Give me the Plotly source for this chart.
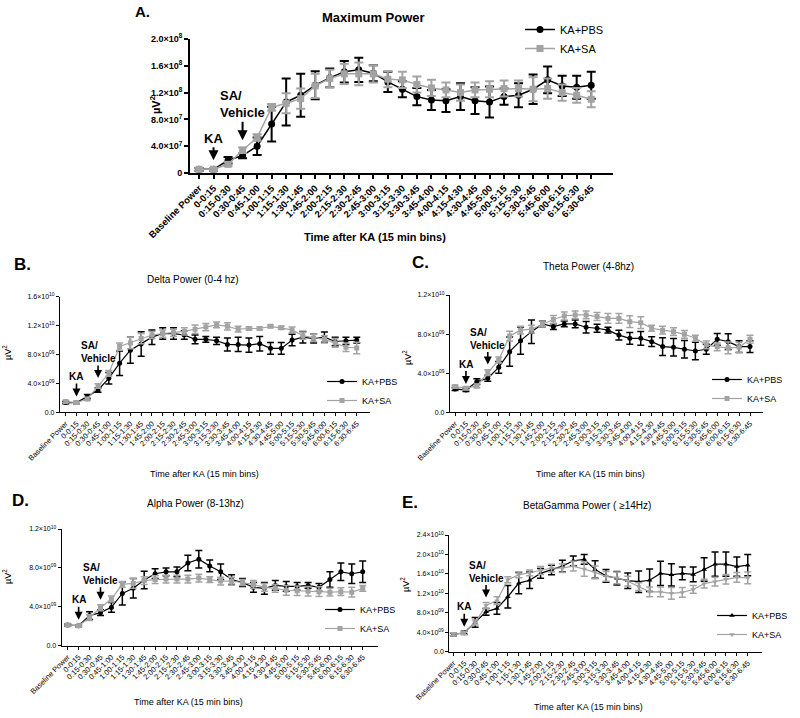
import plotly.graph_objects as go

# ---------------- data ----------------
categories = ["Baseline Power", "0-0:15", "0:15-0:30", "0:30-0:45", "0:45-1:00", "1:00-1:15",
              "1:15-1:30", "1:30-1:45", "1:45-2:00", "2:00-2:15", "2:15-2:30", "2:30-2:45",
              "2:45-3:00", "3:00-3:15", "3:15-3:30", "3:30-3:45", "3:45-4:00", "4:00-4:15",
              "4:15-4:30", "4:30-4:45", "4:45-5:00", "5:00-5:15", "5:15-5:30", "5:30-5:45",
              "5:45-6:00", "6:00-6:15", "6:15-6:30", "6:30-6:45"]

# Maximum power (units of 1e7 uV^2)
max_pbs = [0.55, 0.55, 1.9, 2.6, 4.0, 7.3, 10.6, 11.6, 13.1, 14.2, 15.1, 15.4, 14.9, 13.6, 12.5, 11.4,
           10.9, 10.8, 11.4, 10.8, 10.6, 11.4, 11.6, 12.5, 13.9, 13.0, 12.8, 13.1]
max_pbs_err = [0.2, 0.2, 0.5, 0.4, 1.3, 2.6, 3.5, 3.2, 2.1, 1.4, 1.6, 1.8, 1.2, 1.5, 1.2, 1.3,
               1.5, 1.7, 2.0, 2.0, 2.3, 1.2, 1.8, 2.2, 2.0, 1.5, 1.7, 2.0]
max_sa = [0.55, 0.55, 1.3, 3.4, 5.3, 9.8, 10.4, 11.1, 13.0, 14.1, 14.8, 14.8, 14.8, 14.0, 13.9, 13.2,
          12.7, 12.4, 12.0, 12.4, 12.5, 12.6, 12.6, 12.5, 12.6, 12.0, 11.6, 11.0]
max_sa_err = [0.2, 0.2, 0.3, 0.4, 0.5, 0.5, 1.5, 1.5, 1.8, 1.3, 1.5, 1.7, 1.3, 1.2, 1.2, 1.2,
              1.2, 1.1, 1.2, 1.1, 1.2, 1.2, 1.2, 1.8, 1.5, 1.2, 1.1, 1.2]

# Delta power (units of 1e9 uV^2)
delta_pbs = [1.34, 1.34, 2.17, 3.09, 4.7, 6.8, 8.6, 9.45, 10.4, 10.9, 10.9, 10.7, 10.1, 10.1, 9.9, 9.4,
             9.4, 9.3, 9.5, 8.85, 8.85, 10.0, 10.4, 10.2, 10.4, 9.8, 9.9, 10.0]
delta_pbs_err = [0.15, 0.15, 0.3, 0.3, 0.8, 1.7, 1.8, 1.7, 1.0, 0.8, 0.8, 0.6, 0.6, 0.4, 0.5, 0.9,
                 1.0, 1.0, 1.0, 0.8, 0.8, 0.8, 0.8, 0.6, 0.7, 0.6, 0.5, 0.4]
delta_sa = [1.48, 1.34, 1.84, 3.64, 5.4, 9.1, 9.6, 10.2, 10.7, 10.9, 11.0, 11.2, 11.5, 11.8, 12.1, 11.9,
            11.5, 11.6, 11.6, 11.9, 11.7, 11.4, 10.6, 10.3, 10.1, 9.6, 9.0, 8.9]
delta_sa_err = [0.15, 0.15, 0.2, 0.3, 0.4, 0.5, 0.8, 0.7, 0.5, 0.5, 0.5, 0.5, 0.6, 0.5, 0.4, 0.5,
                0.4, 0.2, 0.2, 0.2, 0.2, 0.4, 0.5, 0.5, 0.5, 0.6, 0.6, 0.8]

# Theta power (units of 1e9 uV^2)
theta_pbs = [2.39, 2.28, 3.14, 3.48, 4.6, 6.2, 7.33, 8.25, 9.04, 8.76, 9.04, 9.04, 8.7, 8.6, 8.4, 7.9,
             7.57, 7.57, 7.23, 6.72, 6.65, 6.45, 6.27, 6.45, 7.47, 7.23, 6.72, 6.72]
theta_pbs_err = [0.15, 0.15, 0.3, 0.3, 0.6, 1.5, 1.4, 1.2, 0.3, 0.3, 0.3, 0.4, 0.6, 0.4, 0.3, 0.5,
                 0.6, 0.7, 0.5, 0.9, 0.9, 0.9, 0.9, 0.5, 0.6, 0.8, 0.6, 0.6]
theta_sa = [2.63, 2.46, 2.7, 4.06, 5.35, 7.8, 8.4, 8.5, 9.04, 9.5, 9.85, 9.96, 9.96, 9.8, 9.6, 9.6,
            9.27, 9.17, 8.6, 8.4, 8.25, 7.98, 7.57, 6.9, 6.7, 6.6, 6.65, 7.47]
theta_sa_err = [0.15, 0.15, 0.2, 0.3, 0.3, 0.5, 0.4, 0.4, 0.3, 0.4, 0.4, 0.4, 0.4, 0.4, 0.5, 0.5,
                0.6, 0.6, 0.3, 0.4, 0.4, 0.4, 0.3, 0.4, 0.4, 0.6, 0.5, 0.4]

# Alpha power (units of 1e9 uV^2)
alpha_pbs = [2.12, 2.06, 3.1, 3.4, 3.94, 5.38, 5.9, 6.75, 7.4, 7.6, 7.6, 8.5, 8.9, 8.2, 7.6, 6.8,
             6.5, 6.0, 5.9, 6.2, 6.1, 6.1, 6.2, 6.0, 6.8, 7.6, 7.4, 7.6]
alpha_pbs_err = [0.1, 0.1, 0.4, 0.3, 0.5, 1.2, 1.0, 0.9, 0.5, 0.4, 0.5, 0.8, 0.9, 0.6, 0.8, 0.5,
                 0.4, 0.5, 0.6, 0.5, 0.5, 0.4, 0.3, 0.4, 0.8, 0.9, 1.0, 1.1]
alpha_sa = [2.12, 2.06, 2.88, 3.9, 4.8, 6.3, 6.4, 6.7, 6.8, 6.85, 6.85, 6.85, 6.95, 6.8, 6.65, 6.65,
            6.5, 6.3, 6.0, 5.9, 5.7, 5.65, 5.6, 5.55, 5.5, 5.55, 5.5, 5.9]
alpha_sa_err = [0.1, 0.1, 0.3, 0.3, 0.3, 0.3, 0.5, 0.4, 0.4, 0.4, 0.4, 0.4, 0.4, 0.3, 0.4, 0.4,
                0.3, 0.4, 0.4, 0.4, 0.5, 0.5, 0.5, 0.5, 0.4, 0.4, 0.5, 0.3]

# BetaGamma power (units of 1e9 uV^2)
beta_pbs = [3.57, 3.9, 6.04, 8.2, 8.9, 11.3, 14.1, 14.7, 16.1, 16.8, 17.6, 18.7, 19.0, 16.9, 15.6, 15.1,
            14.6, 14.4, 14.7, 16.1, 15.8, 16.1, 15.9, 16.9, 18.0, 18.0, 17.5, 17.8]
beta_pbs_err = [0.3, 0.3, 1.0, 0.7, 1.2, 2.3, 2.2, 1.7, 1.0, 1.0, 1.2, 1.0, 1.0, 1.8, 1.3, 1.4,
                1.6, 2.2, 2.3, 2.5, 2.3, 1.3, 1.5, 2.4, 2.5, 2.5, 2.0, 2.2]
beta_sa = [3.6, 3.8, 6.0, 9.5, 10.5, 14.8, 15.8, 16.2, 16.7, 17.2, 17.2, 17.6, 17.0, 16.3, 15.5, 15.2,
           14.5, 13.4, 12.3, 12.3, 12.0, 12.2, 12.8, 14.0, 14.4, 14.9, 15.3, 15.2]
beta_sa_err = [0.3, 0.3, 0.5, 0.6, 0.8, 0.6, 0.6, 0.6, 0.8, 0.8, 0.9, 1.0, 1.5, 1.3, 1.0, 1.2,
               1.0, 0.8, 1.0, 1.0, 1.2, 1.0, 0.8, 0.9, 0.9, 1.0, 1.0, 1.2]

# tick labels
ticks_max = [0, 4e7, 8e7, 1.2e8, 1.6e8, 2.0e8]
ticktext_max = ["0", "4.0×10<sup>7</sup>", "8.0×10<sup>7</sup>", "1.2×10<sup>8</sup>",
                "1.6×10<sup>8</sup>", "2.0×10<sup>8</sup>"]
ticks_delta = [0, 4e9, 8e9, 1.2e10, 1.6e10]
ticktext_delta = ["0.0", "4.0×10<sup>09</sup>", "8.0×10<sup>09</sup>", "1.2×10<sup>10</sup>",
                  "1.6×10<sup>10</sup>"]
ticks_theta = [0, 4e9, 8e9, 1.2e10]
ticktext_theta = ["0.0", "4.0×10<sup>09</sup>", "8.0×10<sup>09</sup>", "1.2×10<sup>10</sup>"]
ticks_beta = [0, 4e9, 8e9, 1.2e10, 1.6e10, 2.0e10, 2.4e10]
ticktext_beta = ["0.0", "4.0×10<sup>09</sup>", "8.0×10<sup>09</sup>", "1.2×10<sup>10</sup>",
                 "1.6×10<sup>10</sup>", "2.0×10<sup>10</sup>", "2.4×10<sup>10</sup>"]

# ---------------- figure ----------------
W, H = 800, 718
FONT = "Liberation Sans, Arial, sans-serif"
BLACK = "#000000"
GRAY = "#a3a3a3"


def px(x):
    return x / W


def py(y):
    return 1 - y / H


fig = go.Figure()

panels = [
    dict(n="", pbs=max_pbs, pbs_err=max_pbs_err, sa=max_sa, sa_err=max_sa_err, scale=1e7,
         tv=ticks_max, tt=ticktext_max, yr=[0, 2.0e8], xdom=[190, 613], ydom=[173, 39],
         xr=[-0.62, 28.5], big=True, legend="legend", up="circle", dn="square",
         title="Maximum Power", tpos=(373, 18), letter="A.", lpos=(142, 12),
         xtitle=(375, 237), ylab=(155, 105), leg=(520, 15),
         ka=(-31, 9), sav=(-46, 10)),
    dict(n="2", pbs=delta_pbs, pbs_err=delta_pbs_err, sa=delta_sa, sa_err=delta_sa_err, scale=1e9,
         tv=ticks_delta, tt=ticktext_delta, yr=[0, 1.6e10], xdom=[60, 370], ydom=[412.3, 296.7],
         xr=[-0.53, 28.23], big=False, legend="legend2", up="circle", dn="square",
         title="Delta Power (0-4 hz)", tpos=(193, 279), letter="B.", lpos=(22, 264),
         xtitle=(205, 474), ylab=(7, 353), leg=(322, 367),
         ka=(-26, 6), sav=(-34, 8)),
    dict(n="3", pbs=theta_pbs, pbs_err=theta_pbs_err, sa=theta_sa, sa_err=theta_sa_err, scale=1e9,
         tv=ticks_theta, tt=ticktext_theta, yr=[0, 1.2e10], xdom=[450, 763], ydom=[412.3, 295],
         xr=[-0.46, 28.19], big=False, legend="legend3", up="circle", dn="square",
         title="Theta Power (4-8hz)", tpos=(588, 267), letter="C.", lpos=(420, 262),
         xtitle=(590, 474), ylab=(407, 358), leg=(707, 365),
         ka=(-26, 6), sav=(-34, 8)),
    dict(n="4", pbs=alpha_pbs, pbs_err=alpha_pbs_err, sa=alpha_sa, sa_err=alpha_sa_err, scale=1e9,
         tv=ticks_theta, tt=ticktext_theta, yr=[0, 1.2e10], xdom=[61.7, 378], ydom=[645.7, 529],
         xr=[-0.55, 28.4], big=False, legend="legend4", up="circle", dn="square",
         title="Alpha Power (8-13hz)", tpos=(195, 504), letter="D.", lpos=(20, 500),
         xtitle=(188, 702), ylab=(7, 577), leg=(320, 595),
         ka=(-26, 6), sav=(-34, 8)),
    dict(n="5", pbs=beta_pbs, pbs_err=beta_pbs_err, sa=beta_sa, sa_err=beta_sa_err, scale=1e9,
         tv=ticks_beta, tt=ticktext_beta, yr=[0, 2.4e10], xdom=[449.3, 761.7], ydom=[651.7, 535],
         xr=[-0.37, 28.28], big=False, legend="legend5", up="triangle-up", dn="triangle-down",
         title="BetaGamma Power ( ≥14Hz)", tpos=(587, 505), letter="E.", lpos=(410, 502),
         xtitle=(588, 707), ylab=(405, 585), leg=(712, 601),
         ka=(-26, 6), sav=(-34, 8)),
]

annotations = []
layout_axes = {}

for p in panels:
    n = p["n"]
    xa, ya = "x" + n, "y" + n
    big = p["big"]
    s = p["scale"]
    ebw = 2 if big else 1.5
    capw = 4.5 if big else 3.5
    msize = 7 if big else 5
    lw = 1.5 if big else 1.2
    pbs_y = [v * s for v in p["pbs"]]
    sa_y = [v * s for v in p["sa"]]
    fig.add_trace(go.Scatter(
        x=categories, y=pbs_y, name="KA+PBS", mode="lines+markers",
        line=dict(color=BLACK, width=lw),
        marker=dict(symbol=p["up"], size=msize, color=BLACK),
        error_y=dict(type="data", array=[v * s for v in p["pbs_err"]], color=BLACK,
                     thickness=ebw, width=capw),
        xaxis=xa, yaxis=ya, legend=p["legend"]))
    fig.add_trace(go.Scatter(
        x=categories, y=sa_y, name="KA+SA", mode="lines+markers",
        line=dict(color=GRAY, width=lw),
        marker=dict(symbol=p["dn"], size=msize, color=GRAY),
        error_y=dict(type="data", array=[v * s for v in p["sa_err"]], color=GRAY,
                     thickness=ebw, width=capw),
        xaxis=xa, yaxis=ya, legend=p["legend"]))

    xtickfont = dict(family=FONT, size=9.5 if big else 7.5, color=BLACK,
                     weight="bold" if big else "normal")
    ytickfont = dict(family=FONT, size=9 if big else 7, color=BLACK,
                     weight="bold" if big else "normal")
    xkey = "xaxis" + n
    ykey = "yaxis" + n
    layout_axes[xkey] = dict(
        type="category", domain=[px(p["xdom"][0]), px(p["xdom"][1])], anchor=ya,
        range=p["xr"], tickmode="array", tickvals=categories, ticktext=categories,
        tickangle=-45, tickfont=xtickfont, showline=True, linecolor=BLACK,
        linewidth=2 if big else 1.2, ticks="outside", ticklen=4 if big else 3,
        tickwidth=1.5 if big else 1, tickcolor=BLACK, showgrid=False, zeroline=False,
        automargin=False)
    layout_axes[ykey] = dict(
        domain=[py(p["ydom"][0]), py(p["ydom"][1])], anchor=xa, range=p["yr"],
        tickmode="array", tickvals=p["tv"], ticktext=p["tt"], tickfont=ytickfont,
        showline=True, linecolor=BLACK, linewidth=2 if big else 1.2, ticks="outside",
        ticklen=4 if big else 3, tickwidth=1.5 if big else 1, tickcolor=BLACK,
        showgrid=False, zeroline=False, automargin=False)

    # panel title
    annotations.append(dict(text=p["title"], x=px(p["tpos"][0]), y=py(p["tpos"][1]),
                            xref="paper", yref="paper", showarrow=False,
                            xanchor="center", yanchor="middle",
                            font=dict(family=FONT, size=13 if big else 10, color=BLACK,
                                      weight="bold" if big else "normal")))
    # panel letter
    annotations.append(dict(text=p["letter"], x=px(p["lpos"][0]), y=py(p["lpos"][1]),
                            xref="paper", yref="paper", showarrow=False,
                            xanchor="center", yanchor="middle",
                            font=dict(family=FONT, size=15 if big else 17, color=BLACK,
                                      weight="bold")))
    # x-axis title
    annotations.append(dict(text="Time after KA (15 min bins)", x=px(p["xtitle"][0]),
                            y=py(p["xtitle"][1]), xref="paper", yref="paper",
                            showarrow=False, xanchor="center", yanchor="middle",
                            font=dict(family=FONT, size=11 if big else 9, color=BLACK,
                                      weight="bold" if big else "normal")))
    # y-axis label
    annotations.append(dict(text="µV<sup>2</sup>", x=px(p["ylab"][0]), y=py(p["ylab"][1]),
                            xref="paper", yref="paper", showarrow=False, textangle=-90,
                            xanchor="center", yanchor="middle",
                            font=dict(family=FONT, size=11 if big else 9, color=BLACK,
                                      weight="bold" if big else "normal")))
    # KA arrow
    afont = dict(family=FONT, size=13 if big else 10, color=BLACK, weight="bold")
    annotations.append(dict(text="KA", x=categories[1], y=pbs_y[1], xref=xa, yref=ya,
                            showarrow=True, ax=0, ay=p["ka"][0], standoff=p["ka"][1],
                            arrowhead=2, arrowsize=1, arrowwidth=2 if big else 1.6,
                            arrowcolor=BLACK, font=afont))
    # SA/Vehicle arrow
    annotations.append(dict(text="SA/<br>Vehicle", x=categories[3], y=max(pbs_y[3], sa_y[3]),
                            xref=xa, yref=ya, align="left",
                            showarrow=True, ax=0, ay=p["sav"][0], standoff=p["sav"][1],
                            arrowhead=2, arrowsize=1, arrowwidth=2 if big else 1.6,
                            arrowcolor=BLACK, font=afont))

legend_cfg = {}
for p in panels:
    legend_cfg[p["legend"]] = dict(
        x=px(p["leg"][0]), y=py(p["leg"][1]), xanchor="left", yanchor="top",
        bgcolor="rgba(0,0,0,0)", itemwidth=30, tracegroupgap=0,
        font=dict(family=FONT, size=11 if p["big"] else 9, color=BLACK))

fig.update_layout(
    width=W, height=H, autosize=False,
    margin=dict(l=0, r=0, t=0, b=0, autoexpand=False),
    paper_bgcolor="white", plot_bgcolor="white",
    font=dict(family=FONT, color=BLACK),
    showlegend=True,
    annotations=annotations,
    **layout_axes,
    **legend_cfg,
)

fig.write_html("out.html", config={"displayModeBar": False},
               post_script="document.body.style.margin='0';document.body.style.overflow='hidden';")
